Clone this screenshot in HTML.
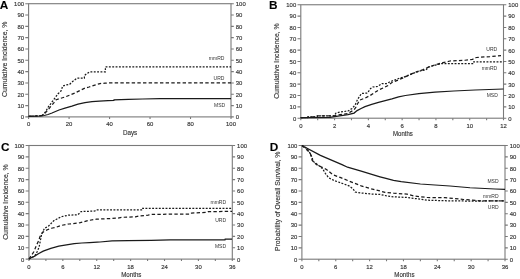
<!DOCTYPE html>
<html><head><meta charset="utf-8"><style>
html,body{margin:0;padding:0;background:#fff;}
body{width:520px;height:279px;overflow:hidden;}
svg{display:block;will-change:transform;}
text{font-family:"Liberation Sans", sans-serif;font-size:5.4px;fill:#333;stroke:#333;stroke-width:0.14px;}
text.lab{stroke:none;fill:#333;}
text.lab{font-size:5.0px;}
text.tt{font-size:6.8px;}
text.let{font-size:11.8px;font-weight:bold;fill:#000;}
</style></head><body>
<svg width="520" height="279" viewBox="0 0 520 279">
<g><rect x="28.6" y="3.7" width="202.4" height="113.2" fill="none" stroke="#7a7a7a" stroke-width="1.1"/><text x="24" y="119.3" text-anchor="end" textLength="3.3" lengthAdjust="spacingAndGlyphs">0</text><text x="235.8" y="119.3" textLength="3.3" lengthAdjust="spacingAndGlyphs">0</text><text x="24" y="107.98" text-anchor="end" textLength="6.6" lengthAdjust="spacingAndGlyphs">10</text><text x="235.8" y="107.98" textLength="6.6" lengthAdjust="spacingAndGlyphs">10</text><text x="24" y="96.66" text-anchor="end" textLength="6.6" lengthAdjust="spacingAndGlyphs">20</text><text x="235.8" y="96.66" textLength="6.6" lengthAdjust="spacingAndGlyphs">20</text><text x="24" y="85.34" text-anchor="end" textLength="6.6" lengthAdjust="spacingAndGlyphs">30</text><text x="235.8" y="85.34" textLength="6.6" lengthAdjust="spacingAndGlyphs">30</text><text x="24" y="74.02" text-anchor="end" textLength="6.6" lengthAdjust="spacingAndGlyphs">40</text><text x="235.8" y="74.02" textLength="6.6" lengthAdjust="spacingAndGlyphs">40</text><text x="24" y="62.7" text-anchor="end" textLength="6.6" lengthAdjust="spacingAndGlyphs">50</text><text x="235.8" y="62.7" textLength="6.6" lengthAdjust="spacingAndGlyphs">50</text><text x="24" y="51.38" text-anchor="end" textLength="6.6" lengthAdjust="spacingAndGlyphs">60</text><text x="235.8" y="51.38" textLength="6.6" lengthAdjust="spacingAndGlyphs">60</text><text x="24" y="40.06" text-anchor="end" textLength="6.6" lengthAdjust="spacingAndGlyphs">70</text><text x="235.8" y="40.06" textLength="6.6" lengthAdjust="spacingAndGlyphs">70</text><text x="24" y="28.74" text-anchor="end" textLength="6.6" lengthAdjust="spacingAndGlyphs">80</text><text x="235.8" y="28.74" textLength="6.6" lengthAdjust="spacingAndGlyphs">80</text><text x="24" y="17.42" text-anchor="end" textLength="6.6" lengthAdjust="spacingAndGlyphs">90</text><text x="235.8" y="17.42" textLength="6.6" lengthAdjust="spacingAndGlyphs">90</text><text x="24" y="6.1" text-anchor="end" textLength="9.9" lengthAdjust="spacingAndGlyphs">100</text><text x="235.8" y="6.1" textLength="9.9" lengthAdjust="spacingAndGlyphs">100</text><text x="28.6" y="126.3" text-anchor="middle" textLength="3.3" lengthAdjust="spacingAndGlyphs">0</text><text x="69.08" y="126.3" text-anchor="middle" textLength="6.6" lengthAdjust="spacingAndGlyphs">20</text><text x="109.56" y="126.3" text-anchor="middle" textLength="6.6" lengthAdjust="spacingAndGlyphs">40</text><text x="150.04" y="126.3" text-anchor="middle" textLength="6.6" lengthAdjust="spacingAndGlyphs">60</text><text x="190.52" y="126.3" text-anchor="middle" textLength="6.6" lengthAdjust="spacingAndGlyphs">80</text><text x="231" y="126.3" text-anchor="middle" textLength="9.9" lengthAdjust="spacingAndGlyphs">100</text><path d="M25.3 116.9H28.6M231 116.9H233.8M25.3 105.58H28.6M231 105.58H233.8M25.3 94.26H28.6M231 94.26H233.8M25.3 82.94H28.6M231 82.94H233.8M25.3 71.62H28.6M231 71.62H233.8M25.3 60.3H28.6M231 60.3H233.8M25.3 48.98H28.6M231 48.98H233.8M25.3 37.66H28.6M231 37.66H233.8M25.3 26.34H28.6M231 26.34H233.8M25.3 15.02H28.6M231 15.02H233.8M25.3 3.7H28.6M231 3.7H233.8M28.6 116.9V118.9M69.08 116.9V118.9M109.56 116.9V118.9M150.04 116.9V118.9M190.52 116.9V118.9M231 116.9V118.9" stroke="#7a7a7a" stroke-width="1.1" fill="none"/><path d="M28.6 116.3 L41 116 L44.3 115.5 L48 114.5 L52 113 L55.5 111.5 L59 110 L65 108.2 L71.9 106.2 L78 104.2 L85 102.6 L92 101.7 L99.4 101.1 L108 100.6 L113.9 100.3 L114 99.9 L128.3 99.4 L142.7 99 L160 98.6 L190 98.5 L231 98.5" fill="none" stroke="#1a1a1a" stroke-width="1.25"/><path d="M28.75 116.3 L42 115.6 L44 114 L46.5 111.5 L48.5 109.3 L50.4 106.9 L53.6 103.1 L55.75 99.9 L59 98.8 L64.4 97.2 L69.7 95.1 L75.1 92.9 L80.5 90.2 L85 88.1 L89 87 L94 85.3 L100 83.6 L105 83.1 L110.8 82.9 L231 82.9" fill="none" stroke="#1a1a1a" stroke-width="1.25" stroke-dasharray="3.4 2.26"/><path d="M28.75 116.3 L42 115.6 L44 114 L46 111 L48.2 107.2 L51.5 102.6 L54.7 98.3 L57.9 94 L61.1 90.8 L62.7 86 L66.5 84.8 L69.7 84.3 L72 82 L74 80.5 L76.9 78.2 L84.4 78.2 L84.4 75.6 L87 73.5 L90 71.9 L105.4 71.9 L105.4 66.9 L231 66.9" fill="none" stroke="#1a1a1a" stroke-width="1.25" stroke-dasharray="1.9 1.45"/><text x="224.4" y="59.8" text-anchor="end" class="lab">mmRD</text><text x="224.4" y="80" text-anchor="end" class="lab">URD</text><text x="225.1" y="107" text-anchor="end" class="lab">MSD</text><text x="-0.3" y="9.4" class="let">A</text><text x="0" y="0" transform="translate(6.9 59.3) rotate(-90)" text-anchor="middle" class="tt" textLength="75.5" lengthAdjust="spacingAndGlyphs">Cumulative Incidence, %</text><text x="130.1" y="134.8" text-anchor="middle" class="tt" textLength="14.3" lengthAdjust="spacingAndGlyphs">Days</text></g>
<g><rect x="300.8" y="4.75" width="202.7" height="113.45" fill="none" stroke="#7a7a7a" stroke-width="1.1"/><text x="296.2" y="120.6" text-anchor="end" textLength="3.3" lengthAdjust="spacingAndGlyphs">0</text><text x="508.3" y="120.6" textLength="3.3" lengthAdjust="spacingAndGlyphs">0</text><text x="296.2" y="109.26" text-anchor="end" textLength="6.6" lengthAdjust="spacingAndGlyphs">10</text><text x="508.3" y="109.26" textLength="6.6" lengthAdjust="spacingAndGlyphs">10</text><text x="296.2" y="97.91" text-anchor="end" textLength="6.6" lengthAdjust="spacingAndGlyphs">20</text><text x="508.3" y="97.91" textLength="6.6" lengthAdjust="spacingAndGlyphs">20</text><text x="296.2" y="86.57" text-anchor="end" textLength="6.6" lengthAdjust="spacingAndGlyphs">30</text><text x="508.3" y="86.57" textLength="6.6" lengthAdjust="spacingAndGlyphs">30</text><text x="296.2" y="75.22" text-anchor="end" textLength="6.6" lengthAdjust="spacingAndGlyphs">40</text><text x="508.3" y="75.22" textLength="6.6" lengthAdjust="spacingAndGlyphs">40</text><text x="296.2" y="63.88" text-anchor="end" textLength="6.6" lengthAdjust="spacingAndGlyphs">50</text><text x="508.3" y="63.88" textLength="6.6" lengthAdjust="spacingAndGlyphs">50</text><text x="296.2" y="52.53" text-anchor="end" textLength="6.6" lengthAdjust="spacingAndGlyphs">60</text><text x="508.3" y="52.53" textLength="6.6" lengthAdjust="spacingAndGlyphs">60</text><text x="296.2" y="41.18" text-anchor="end" textLength="6.6" lengthAdjust="spacingAndGlyphs">70</text><text x="508.3" y="41.18" textLength="6.6" lengthAdjust="spacingAndGlyphs">70</text><text x="296.2" y="29.84" text-anchor="end" textLength="6.6" lengthAdjust="spacingAndGlyphs">80</text><text x="508.3" y="29.84" textLength="6.6" lengthAdjust="spacingAndGlyphs">80</text><text x="296.2" y="18.49" text-anchor="end" textLength="6.6" lengthAdjust="spacingAndGlyphs">90</text><text x="508.3" y="18.49" textLength="6.6" lengthAdjust="spacingAndGlyphs">90</text><text x="296.2" y="7.15" text-anchor="end" textLength="9.9" lengthAdjust="spacingAndGlyphs">100</text><text x="508.3" y="7.15" textLength="9.9" lengthAdjust="spacingAndGlyphs">100</text><text x="300.8" y="127.6" text-anchor="middle" textLength="3.3" lengthAdjust="spacingAndGlyphs">0</text><text x="334.58" y="127.6" text-anchor="middle" textLength="3.3" lengthAdjust="spacingAndGlyphs">2</text><text x="368.37" y="127.6" text-anchor="middle" textLength="3.3" lengthAdjust="spacingAndGlyphs">4</text><text x="402.15" y="127.6" text-anchor="middle" textLength="3.3" lengthAdjust="spacingAndGlyphs">6</text><text x="435.93" y="127.6" text-anchor="middle" textLength="3.3" lengthAdjust="spacingAndGlyphs">8</text><text x="469.72" y="127.6" text-anchor="middle" textLength="6.6" lengthAdjust="spacingAndGlyphs">10</text><text x="503.5" y="127.6" text-anchor="middle" textLength="6.6" lengthAdjust="spacingAndGlyphs">12</text><path d="M297.5 118.2H300.8M503.5 118.2H506.3M297.5 106.86H300.8M503.5 106.86H506.3M297.5 95.51H300.8M503.5 95.51H506.3M297.5 84.17H300.8M503.5 84.17H506.3M297.5 72.82H300.8M503.5 72.82H506.3M297.5 61.48H300.8M503.5 61.48H506.3M297.5 50.13H300.8M503.5 50.13H506.3M297.5 38.78H300.8M503.5 38.78H506.3M297.5 27.44H300.8M503.5 27.44H506.3M297.5 16.09H300.8M503.5 16.09H506.3M297.5 4.75H300.8M503.5 4.75H506.3M300.8 118.2V120.2M317.69 118.2V120.2M334.58 118.2V120.2M351.48 118.2V120.2M368.37 118.2V120.2M385.26 118.2V120.2M402.15 118.2V120.2M419.04 118.2V120.2M435.93 118.2V120.2M452.83 118.2V120.2M469.72 118.2V120.2M486.61 118.2V120.2M503.5 118.2V120.2" stroke="#7a7a7a" stroke-width="1.1" fill="none"/><path d="M300.7 117.6 L330 117.3 L338 116.1 L348 114.6 L354.1 113.1 L357.1 110.6 L361.1 108.5 L365 106.6 L371.7 104.4 L378.5 102.4 L385.2 100.6 L391.9 98.8 L398.6 96.8 L405.4 95.5 L418.8 93.7 L435 92.1 L453.8 91 L475 90 L503.5 89" fill="none" stroke="#1a1a1a" stroke-width="1.25"/><path d="M300.7 117.6 L308 117.5 L308 116.9 L317.4 116.9 L317.4 115.8 L334 115.8 L338 115 L344 114.2 L348 113.6 L351 111.6 L354 110 L356 107 L358 103 L360 100 L365 98.1 L370 95.6 L374 93 L378.6 90 L384.1 87.5 L388.1 85.5 L392 82.5 L397.4 80.3 L403.8 77.6 L410.1 74.4 L416.4 71.9 L422.6 69.8 L428.9 66.9 L435.2 64.8 L443 62.6 L450 61 L465 60.25 L472.5 59.4 L476.25 57.5 L490 56.6 L501 55.6" fill="none" stroke="#1a1a1a" stroke-width="1.25" stroke-dasharray="3.4 2.26"/><path d="M300.7 117.6 L308 117.5 L308 116.9 L317.4 116.9 L317.4 115.8 L334 115.8 L336 113.1 L340 112.1 L348 111 L352 108.5 L355.1 105 L357.1 100.5 L359 97.1 L361.5 93.5 L367.5 93 L370.6 88.5 L372.6 87 L377.6 86.5 L382.1 83.5 L386.6 83.5 L389.6 82 L392 81 L396.7 79.4 L400 77.9 L403.8 77.2 L410.1 74.6 L416.4 72.1 L422.6 70.3 L425.8 70 L428.9 67 L435.2 65.2 L442 63.5 L473.75 63.5 L473.75 61.9 L503.5 61.9" fill="none" stroke="#1a1a1a" stroke-width="1.25" stroke-dasharray="1.9 1.45"/><text x="497.2" y="51.3" text-anchor="end" class="lab">URD</text><text x="497.2" y="69.6" text-anchor="end" class="lab">mmRD</text><text x="497.8" y="97.4" text-anchor="end" class="lab">MSD</text><text x="268.9" y="9.3" class="let">B</text><text x="0" y="0" transform="translate(279.1 61.1) rotate(-90)" text-anchor="middle" class="tt" textLength="75.5" lengthAdjust="spacingAndGlyphs">Cumulative Incidence, %</text><text x="403" y="136" text-anchor="middle" class="tt" textLength="19.8" lengthAdjust="spacingAndGlyphs">Months</text></g>
<g><rect x="28.95" y="145.5" width="203.35" height="113.6" fill="none" stroke="#7a7a7a" stroke-width="1.1"/><text x="24.35" y="261.5" text-anchor="end" textLength="3.3" lengthAdjust="spacingAndGlyphs">0</text><text x="237.1" y="261.5" textLength="3.3" lengthAdjust="spacingAndGlyphs">0</text><text x="24.35" y="250.14" text-anchor="end" textLength="6.6" lengthAdjust="spacingAndGlyphs">10</text><text x="237.1" y="250.14" textLength="6.6" lengthAdjust="spacingAndGlyphs">10</text><text x="24.35" y="238.78" text-anchor="end" textLength="6.6" lengthAdjust="spacingAndGlyphs">20</text><text x="237.1" y="238.78" textLength="6.6" lengthAdjust="spacingAndGlyphs">20</text><text x="24.35" y="227.42" text-anchor="end" textLength="6.6" lengthAdjust="spacingAndGlyphs">30</text><text x="237.1" y="227.42" textLength="6.6" lengthAdjust="spacingAndGlyphs">30</text><text x="24.35" y="216.06" text-anchor="end" textLength="6.6" lengthAdjust="spacingAndGlyphs">40</text><text x="237.1" y="216.06" textLength="6.6" lengthAdjust="spacingAndGlyphs">40</text><text x="24.35" y="204.7" text-anchor="end" textLength="6.6" lengthAdjust="spacingAndGlyphs">50</text><text x="237.1" y="204.7" textLength="6.6" lengthAdjust="spacingAndGlyphs">50</text><text x="24.35" y="193.34" text-anchor="end" textLength="6.6" lengthAdjust="spacingAndGlyphs">60</text><text x="237.1" y="193.34" textLength="6.6" lengthAdjust="spacingAndGlyphs">60</text><text x="24.35" y="181.98" text-anchor="end" textLength="6.6" lengthAdjust="spacingAndGlyphs">70</text><text x="237.1" y="181.98" textLength="6.6" lengthAdjust="spacingAndGlyphs">70</text><text x="24.35" y="170.62" text-anchor="end" textLength="6.6" lengthAdjust="spacingAndGlyphs">80</text><text x="237.1" y="170.62" textLength="6.6" lengthAdjust="spacingAndGlyphs">80</text><text x="24.35" y="159.26" text-anchor="end" textLength="6.6" lengthAdjust="spacingAndGlyphs">90</text><text x="237.1" y="159.26" textLength="6.6" lengthAdjust="spacingAndGlyphs">90</text><text x="24.35" y="147.9" text-anchor="end" textLength="9.9" lengthAdjust="spacingAndGlyphs">100</text><text x="237.1" y="147.9" textLength="9.9" lengthAdjust="spacingAndGlyphs">100</text><text x="28.95" y="268.5" text-anchor="middle" textLength="3.3" lengthAdjust="spacingAndGlyphs">0</text><text x="62.84" y="268.5" text-anchor="middle" textLength="3.3" lengthAdjust="spacingAndGlyphs">6</text><text x="96.73" y="268.5" text-anchor="middle" textLength="6.6" lengthAdjust="spacingAndGlyphs">12</text><text x="130.62" y="268.5" text-anchor="middle" textLength="6.6" lengthAdjust="spacingAndGlyphs">18</text><text x="164.52" y="268.5" text-anchor="middle" textLength="6.6" lengthAdjust="spacingAndGlyphs">24</text><text x="198.41" y="268.5" text-anchor="middle" textLength="6.6" lengthAdjust="spacingAndGlyphs">30</text><text x="232.3" y="268.5" text-anchor="middle" textLength="6.6" lengthAdjust="spacingAndGlyphs">36</text><path d="M25.65 259.1H28.95M232.3 259.1H235.1M25.65 247.74H28.95M232.3 247.74H235.1M25.65 236.38H28.95M232.3 236.38H235.1M25.65 225.02H28.95M232.3 225.02H235.1M25.65 213.66H28.95M232.3 213.66H235.1M25.65 202.3H28.95M232.3 202.3H235.1M25.65 190.94H28.95M232.3 190.94H235.1M25.65 179.58H28.95M232.3 179.58H235.1M25.65 168.22H28.95M232.3 168.22H235.1M25.65 156.86H28.95M232.3 156.86H235.1M25.65 145.5H28.95M232.3 145.5H235.1M28.95 259.1V261.1M45.9 259.1V261.1M62.84 259.1V261.1M79.79 259.1V261.1M96.73 259.1V261.1M113.68 259.1V261.1M130.62 259.1V261.1M147.57 259.1V261.1M164.52 259.1V261.1M181.46 259.1V261.1M198.41 259.1V261.1M215.35 259.1V261.1M232.3 259.1V261.1" stroke="#7a7a7a" stroke-width="1.1" fill="none"/><path d="M29 259 L30 258.3 L34.2 256.4 L38.8 253.5 L43.2 251.1 L50.8 248.3 L58.8 246.2 L66.5 244.9 L74.2 243.7 L81.8 243 L89.5 242.6 L97.2 242.1 L100 242 L112.1 240.8 L128 240.6 L151.1 240.3 L170 239.9 L190.8 239.9 L225 239.8 L225.2 239 L232 239" fill="none" stroke="#1a1a1a" stroke-width="1.25"/><path d="M29 259 L31 256 L34 251.5 L36.3 245.6 L38.5 241.1 L40 236.6 L42.3 232.8 L44.8 231 L48 229.5 L52.5 228 L56.1 227.3 L60.7 225.5 L69 224 L80.3 222.7 L88.4 220.5 L96.5 219.2 L103 218.9 L117.6 218.1 L122.4 217.3 L135.3 216.8 L138.5 216 L148.2 215.2 L150.6 214.4 L190.6 214 L191.5 213.1 L206.8 212.4 L208.4 211.6 L232 211.4" fill="none" stroke="#1a1a1a" stroke-width="1.25" stroke-dasharray="3.4 2.26"/><path d="M29 259 L32 257.5 L35 255.5 L37 252 L39 247.5 L40.5 240 L41.5 235 L43 231 L44.8 228.1 L48.1 226.5 L53.7 220.8 L61 216.8 L68.2 215.2 L77.9 214.7 L81.1 211.6 L93.2 211.1 L95 210.8 L96.6 209.8 L142.6 209.8 L142.6 208.3 L232 208.3" fill="none" stroke="#1a1a1a" stroke-width="1.25" stroke-dasharray="1.9 1.45"/><text x="226.1" y="203.7" text-anchor="end" class="lab">mmRD</text><text x="226.1" y="221.6" text-anchor="end" class="lab">URD</text><text x="226" y="247.7" text-anchor="end" class="lab">MSD</text><text x="1" y="151.2" class="let">C</text><text x="0" y="0" transform="translate(7.5 202.1) rotate(-90)" text-anchor="middle" class="tt" textLength="75.5" lengthAdjust="spacingAndGlyphs">Cumulative Incidence, %</text><text x="131.3" y="276.5" text-anchor="middle" class="tt" textLength="20.2" lengthAdjust="spacingAndGlyphs">Months</text></g>
<g><rect x="301.9" y="145.5" width="203.1" height="113.7" fill="none" stroke="#7a7a7a" stroke-width="1.1"/><text x="297.3" y="261.6" text-anchor="end" textLength="3.3" lengthAdjust="spacingAndGlyphs">0</text><text x="509.8" y="261.6" textLength="3.3" lengthAdjust="spacingAndGlyphs">0</text><text x="297.3" y="250.23" text-anchor="end" textLength="6.6" lengthAdjust="spacingAndGlyphs">10</text><text x="509.8" y="250.23" textLength="6.6" lengthAdjust="spacingAndGlyphs">10</text><text x="297.3" y="238.86" text-anchor="end" textLength="6.6" lengthAdjust="spacingAndGlyphs">20</text><text x="509.8" y="238.86" textLength="6.6" lengthAdjust="spacingAndGlyphs">20</text><text x="297.3" y="227.49" text-anchor="end" textLength="6.6" lengthAdjust="spacingAndGlyphs">30</text><text x="509.8" y="227.49" textLength="6.6" lengthAdjust="spacingAndGlyphs">30</text><text x="297.3" y="216.12" text-anchor="end" textLength="6.6" lengthAdjust="spacingAndGlyphs">40</text><text x="509.8" y="216.12" textLength="6.6" lengthAdjust="spacingAndGlyphs">40</text><text x="297.3" y="204.75" text-anchor="end" textLength="6.6" lengthAdjust="spacingAndGlyphs">50</text><text x="509.8" y="204.75" textLength="6.6" lengthAdjust="spacingAndGlyphs">50</text><text x="297.3" y="193.38" text-anchor="end" textLength="6.6" lengthAdjust="spacingAndGlyphs">60</text><text x="509.8" y="193.38" textLength="6.6" lengthAdjust="spacingAndGlyphs">60</text><text x="297.3" y="182.01" text-anchor="end" textLength="6.6" lengthAdjust="spacingAndGlyphs">70</text><text x="509.8" y="182.01" textLength="6.6" lengthAdjust="spacingAndGlyphs">70</text><text x="297.3" y="170.64" text-anchor="end" textLength="6.6" lengthAdjust="spacingAndGlyphs">80</text><text x="509.8" y="170.64" textLength="6.6" lengthAdjust="spacingAndGlyphs">80</text><text x="297.3" y="159.27" text-anchor="end" textLength="6.6" lengthAdjust="spacingAndGlyphs">90</text><text x="509.8" y="159.27" textLength="6.6" lengthAdjust="spacingAndGlyphs">90</text><text x="297.3" y="147.9" text-anchor="end" textLength="9.9" lengthAdjust="spacingAndGlyphs">100</text><text x="509.8" y="147.9" textLength="9.9" lengthAdjust="spacingAndGlyphs">100</text><text x="301.9" y="268.6" text-anchor="middle" textLength="3.3" lengthAdjust="spacingAndGlyphs">0</text><text x="335.75" y="268.6" text-anchor="middle" textLength="3.3" lengthAdjust="spacingAndGlyphs">6</text><text x="369.6" y="268.6" text-anchor="middle" textLength="6.6" lengthAdjust="spacingAndGlyphs">12</text><text x="403.45" y="268.6" text-anchor="middle" textLength="6.6" lengthAdjust="spacingAndGlyphs">18</text><text x="437.3" y="268.6" text-anchor="middle" textLength="6.6" lengthAdjust="spacingAndGlyphs">24</text><text x="471.15" y="268.6" text-anchor="middle" textLength="6.6" lengthAdjust="spacingAndGlyphs">30</text><text x="505" y="268.6" text-anchor="middle" textLength="6.6" lengthAdjust="spacingAndGlyphs">36</text><path d="M298.6 259.2H301.9M505 259.2H507.8M298.6 247.83H301.9M505 247.83H507.8M298.6 236.46H301.9M505 236.46H507.8M298.6 225.09H301.9M505 225.09H507.8M298.6 213.72H301.9M505 213.72H507.8M298.6 202.35H301.9M505 202.35H507.8M298.6 190.98H301.9M505 190.98H507.8M298.6 179.61H301.9M505 179.61H507.8M298.6 168.24H301.9M505 168.24H507.8M298.6 156.87H301.9M505 156.87H507.8M298.6 145.5H301.9M505 145.5H507.8M301.9 259.2V261.2M318.82 259.2V261.2M335.75 259.2V261.2M352.67 259.2V261.2M369.6 259.2V261.2M386.52 259.2V261.2M403.45 259.2V261.2M420.38 259.2V261.2M437.3 259.2V261.2M454.23 259.2V261.2M471.15 259.2V261.2M488.08 259.2V261.2M505 259.2V261.2" stroke="#7a7a7a" stroke-width="1.1" fill="none"/><path d="M301.9 145.5 L320.4 155.4 L342 164.6 L347.5 167.2 L361.2 171.2 L372.6 174.6 L380 176.8 L385 178.2 L393.5 180.4 L401.2 181.6 L420.4 184 L435 185 L450 186 L470 187.75 L495 189 L505 189.4" fill="none" stroke="#1a1a1a" stroke-width="1.25"/><path d="M301.9 145.5 L306.1 149.1 L310.2 153.2 L312.2 160.3 L316.3 164.4 L320.4 166.5 L326.5 169.5 L332.7 174.6 L340.8 177.7 L351 181.8 L361.2 185.9 L371.4 188.9 L380 191 L385 192.4 L393.5 193.2 L406.9 194.1 L413.6 195.9 L427.1 197.5 L445 197.7 L463.75 199.5 L482.5 201 L505 200.8" fill="none" stroke="#1a1a1a" stroke-width="1.25" stroke-dasharray="3.4 2.26"/><path d="M301.9 145.5 L305 147.2 L308.2 150.1 L311.2 155.2 L313.3 161.4 L317.3 164.4 L322.4 168.5 L325.5 173.6 L328.6 177.7 L334.7 180.8 L340.8 182.8 L349 185.9 L353.1 188.9 L355.1 192 L361.2 193 L371.4 194 L380 194.4 L386.7 195.9 L393.5 196.8 L406.9 197.5 L420.4 199.2 L427.1 200.2 L450 200.9 L463.75 201 L482.5 201 L505 200.8" fill="none" stroke="#1a1a1a" stroke-width="1.25" stroke-dasharray="1.9 1.45"/><text x="498.5" y="183" text-anchor="end" class="lab">MSD</text><text x="498.6" y="197.5" text-anchor="end" class="lab">mmRD</text><text x="498.7" y="208.8" text-anchor="end" class="lab">URD</text><text x="269.8" y="150.7" class="let">D</text><text x="0" y="0" transform="translate(279.5 201.3) rotate(-90)" text-anchor="middle" class="tt" textLength="99.5" lengthAdjust="spacingAndGlyphs">Probability of Overall Survival, %</text><text x="404.4" y="276.7" text-anchor="middle" class="tt" textLength="20.2" lengthAdjust="spacingAndGlyphs">Months</text></g>
</svg>
</body></html>
